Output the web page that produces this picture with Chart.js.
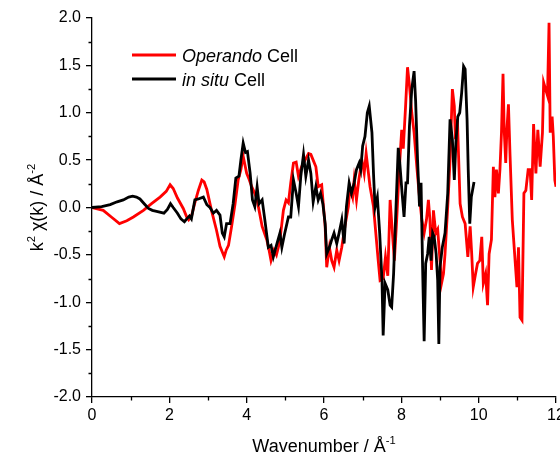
<!DOCTYPE html>
<html>
<head>
<meta charset="utf-8">
<script src="https://cdn.jsdelivr.net/npm/chart.js@4.4.1/dist/chart.umd.min.js"></script>
<style>
  html, body { margin: 0; padding: 0; background: #fff; overflow: hidden; }
  canvas { display: block; }
</style>
</head>
<body>
<canvas id="chart" width="560" height="456"></canvas>
<script>
// Operando cell, k (1/A) and k^2 chi(k)
const operandoK = [0, 0.29, 0.5, 0.71, 0.9, 1.07, 1.33, 1.54, 1.76, 1.92, 2.02, 2.1, 2.21, 2.36, 2.45, 2.5,
  2.58, 2.66, 2.75, 2.84, 2.9, 2.97, 3.09, 3.22, 3.31, 3.42, 3.47, 3.53, 3.61, 3.7, 3.78, 3.85, 3.91,
  4.0, 4.06, 4.13, 4.21, 4.27, 4.32, 4.4, 4.52, 4.58, 4.63, 4.71, 4.77, 4.82, 4.86, 4.91, 4.95,
  5.02, 5.08, 5.14, 5.21, 5.28, 5.34, 5.42, 5.51, 5.6, 5.66, 5.72, 5.79, 5.85, 5.94, 5.98,
  6.03, 6.07, 6.14, 6.2, 6.26, 6.33, 6.39, 6.46, 6.54, 6.63, 6.67, 6.74, 6.78, 6.84, 6.9, 6.98,
  7.04, 7.09, 7.15, 7.19, 7.28, 7.34, 7.4, 7.45, 7.53, 7.59, 7.65, 7.71, 7.77, 7.82, 7.88, 7.94,
  8.01, 8.05, 8.11, 8.16, 8.21, 8.27, 8.33, 8.4, 8.46, 8.53, 8.59, 8.65, 8.7, 8.74, 8.78, 8.83, 8.89, 8.94,
  9.0, 9.04, 9.09, 9.13, 9.2, 9.26, 9.32, 9.37, 9.4, 9.45, 9.52, 9.58, 9.65, 9.72, 9.78, 9.82, 9.86, 9.92, 9.97,
  10.03, 10.08, 10.12, 10.18, 10.23, 10.27, 10.33, 10.38, 10.42, 10.46, 10.51, 10.55, 10.59, 10.63, 10.66,
  10.7, 10.73, 10.77, 10.81, 10.87, 10.93, 10.99, 11.03, 11.07, 11.12, 11.17, 11.22, 11.28, 11.33, 11.37,
  11.42, 11.48, 11.53, 11.59, 11.65, 11.68, 11.73, 11.78, 11.82, 11.85, 11.9, 11.93, 11.97, 12.0];
const operandoChi = [0, -0.03, -0.10, -0.17, -0.14, -0.10, -0.03, 0.04, 0.11, 0.17, 0.24, 0.20, 0.10, -0.01, -0.10, -0.13,
  -0.08, 0.05, 0.18, 0.29, 0.27, 0.19, -0.03, -0.24, -0.41, -0.52, -0.45, -0.40, -0.20, 0.04, 0.29, 0.40, 0.54,
  0.36, 0.30, 0.22, 0.15, 0.08, -0.03, -0.20, -0.34, -0.45, -0.56, -0.45, -0.50, -0.42, -0.34, -0.17, -0.03,
  0.08, 0.05, 0.26, 0.47, 0.48, 0.33, 0.43, 0.50, 0.57, 0.56, 0.50, 0.43, 0.22, 0.24, 0.04,
  -0.20, -0.63, -0.42, -0.56, -0.63, -0.45, -0.56, -0.42, -0.20, 0.01, 0.22, 0.11, 0.29, 0.08, 0.29, 0.50,
  0.36, 0.57, 0.36, 0.22, 0.01, -0.27, -0.55, -0.77, -0.75, -0.52, -0.72, 0.08, -0.27, -0.56, -0.13, 0.36,
  0.82, 0.62, 1.07, 1.48, 1.29, 1.00, 0.79, 0.43, 0.15, -0.13, -0.27, -0.13, 0.08, -0.13, -0.66, -0.03, -0.27, -0.23,
  -0.56, -0.80, -0.70, -0.49, 0.01, 0.50, 1.25, 1.07, 0.72, 0.93, 0.04, -0.10, -0.17, -0.52, -0.20, -0.49, -0.84, -0.70, -0.59,
  -0.56, -0.31, -0.80, -0.70, -1.03, -0.49, -0.34, 0.43, 0.11, 0.40, 0.15, 0.40, 0.79, 1.41, 0.82,
  0.47, 0.82, 1.09, 0.57, -0.13, -0.49, -0.84, -0.42, -1.16, -1.19, 0.15, 0.18, 0.40, 0.40, 0.08,
  0.88, 0.36, 0.82, 0.43, 0.79, 1.32, 1.25, 1.18, 1.95, 0.79, 0.96, 0.75, 0.29, 0.22];

// in situ cell
const inSituK = [0, 0.25, 0.47, 0.65, 0.81, 0.95, 1.05, 1.15, 1.24, 1.35, 1.46, 1.56, 1.67, 1.86, 1.95, 2.03, 2.1,
  2.21, 2.3, 2.39, 2.45, 2.52, 2.57, 2.66, 2.75, 2.88, 2.97, 3.05, 3.14, 3.22, 3.31, 3.37, 3.42, 3.48, 3.57,
  3.65, 3.72, 3.8, 3.85, 3.91, 3.97, 4.02, 4.09, 4.15, 4.21, 4.27, 4.32, 4.4, 4.47, 4.56, 4.63, 4.69, 4.77,
  4.86, 4.91, 4.98, 5.08, 5.14, 5.21, 5.28, 5.34, 5.4, 5.47, 5.53, 5.6, 5.66, 5.72, 5.79, 5.85, 5.91, 5.97,
  6.03, 6.07, 6.14, 6.2, 6.26, 6.33, 6.39, 6.46, 6.52, 6.58, 6.65, 6.71, 6.78, 6.84, 6.91, 6.95,
  7.0, 7.06, 7.12, 7.17, 7.24, 7.28, 7.32, 7.38, 7.44, 7.5, 7.53, 7.58, 7.65, 7.71, 7.75, 7.8, 7.85, 7.92, 7.96,
  8.02, 8.07, 8.12, 8.16, 8.21, 8.27, 8.33, 8.37, 8.42, 8.47, 8.51, 8.55, 8.59, 8.63, 8.68, 8.72, 8.77, 8.81,
  8.85, 8.9, 8.94, 8.97, 9.0, 9.06, 9.13, 9.2, 9.26, 9.32, 9.37, 9.41, 9.46, 9.51, 9.56, 9.61, 9.65, 9.7,
  9.73, 9.77, 9.81, 9.88];
const inSituChi = [0, 0.01, 0.03, 0.06, 0.08, 0.11, 0.12, 0.11, 0.09, 0.04, -0.01, -0.03, -0.04, -0.06, -0.02, 0.04, 0.0,
  -0.06, -0.12, -0.15, -0.12, -0.09, -0.12, 0.08, 0.09, 0.11, 0.03, 0.0, -0.06, -0.03, -0.08, -0.27, -0.31, -0.17, -0.17,
  0.04, 0.31, 0.33, 0.50, 0.68, 0.58, 0.59, 0.36, 0.08, 0.01, 0.22, 0.04, 0.08, -0.13, -0.42, -0.40, -0.52, -0.40,
  -0.27, -0.42, -0.28, -0.10, -0.10, 0.29, 0.15, 0.01, 0.33, 0.56, 0.33, 0.50, 0.36, 0.06, 0.22, 0.08, 0.15, 0.04,
  -0.17, -0.49, -0.42, -0.34, -0.27, -0.38, -0.27, -0.13, -0.38, 0.01, 0.26, 0.15, 0.26, 0.40, 0.47, 0.40,
  0.65, 0.75, 1.00, 1.07, 0.79, 0.36, 0.0, 0.11, -0.27, -0.77, -1.35, -0.80, -0.87, -1.03, -1.05, -0.70, -0.13, 0.63, 0.47,
  0.15, -0.10, 0.26, 0.26, 0.86, 1.25, 1.44, 1.12, 0.50, 0.01, 0.26, -0.63, -1.41, -0.59, -0.49, -0.31, -0.56, -0.27,
  -0.31, -0.49, -0.77, -1.44, -0.63, -0.42, -0.27, 0.15, 0.93, 0.72, 0.29, 0.68, 0.96, 1.00, 1.21, 1.49, 1.46, 0.93,
  0.40, -0.17, 0.11, 0.27];

const FONT = "'Liberation Sans', Arial, sans-serif";

function points(xs, ys) {
  return xs.map((x, i) => ({x: x, y: ys[i]}));
}

// draw a run of text pieces (normal / italic / superscript) starting at x
function richText(ctx, parts, x, y, size, align) {
  const fontOf = p => (p.italic ? 'italic ' : '') + (p.sup ? size * 0.62 : size) + 'px ' + FONT;
  let total = 0;
  parts.forEach(p => { ctx.font = fontOf(p); total += ctx.measureText(p.t).width; });
  let cx = align === 'center' ? x - total / 2 : x;
  ctx.textAlign = 'left';
  ctx.textBaseline = 'alphabetic';
  parts.forEach(p => {
    ctx.font = fontOf(p);
    ctx.fillText(p.t, cx, p.sup ? y - size * 0.42 : y);
    cx += ctx.measureText(p.t).width;
  });
}

const decor = {
  id: 'decor',
  afterDraw(chart) {
    const {ctx, chartArea, scales: {x, y}} = chart;
    ctx.save();
    ctx.strokeStyle = '#000';
    ctx.lineWidth = 1.3;
    ctx.beginPath();
    for (let v = -1.75; v < 2; v += 0.5) {
      const py = Math.round(y.getPixelForValue(v)) + 0.5;
      ctx.moveTo(chartArea.left - 3.5, py);
      ctx.lineTo(chartArea.left, py);
    }
    for (let v = 1; v < 12; v += 2) {
      const px = Math.round(x.getPixelForValue(v)) + 0.5;
      ctx.moveTo(px, chartArea.bottom);
      ctx.lineTo(px, chartArea.bottom + 3.5);
    }
    ctx.stroke();

    ctx.fillStyle = '#000';
    // x axis title
    richText(ctx, [{t: 'Wavenumber / \u00C5'}, {t: '-1', sup: true}],
      (chartArea.left + chartArea.right) / 2, 452, 18, 'center');
    // y axis title
    ctx.save();
    ctx.translate(43, (chartArea.top + chartArea.bottom) / 2);
    ctx.rotate(-Math.PI / 2);
    richText(ctx, [{t: 'k'}, {t: '2', sup: true}, {t: ' \u03C7(k) / \u00C5'}, {t: '-2', sup: true}], 0, 0, 18, 'center');
    ctx.restore();

    // legend
    const rows = [
      {color: '#ff0000', y: 55, parts: [{t: 'Operando', italic: true}, {t: ' Cell'}]},
      {color: '#000000', y: 79, parts: [{t: 'in situ', italic: true}, {t: ' Cell'}]}
    ];
    rows.forEach(r => {
      ctx.strokeStyle = r.color;
      ctx.lineWidth = 2.8;
      ctx.beginPath();
      ctx.moveTo(132, r.y);
      ctx.lineTo(176, r.y);
      ctx.stroke();
      richText(ctx, r.parts, 182, r.y + 6.5, 18, 'left');
    });
    ctx.restore();
  }
};

const axisGrid = {display: true, drawOnChartArea: false, drawTicks: true, tickLength: 6, color: '#000', lineWidth: 1.3};
const axisBorder = {display: true, color: '#000', width: 1.3};

new Chart(document.getElementById('chart'), {
  type: 'line',
  data: {
    datasets: [
      {label: 'in situ Cell', data: points(inSituK, inSituChi), borderColor: '#000000',
       borderWidth: 2.8, pointRadius: 0, tension: 0, order: 0},
      {label: 'Operando Cell', data: points(operandoK, operandoChi), borderColor: '#ff0000',
       borderWidth: 2.8, pointRadius: 0, tension: 0, order: 1}
    ]
  },
  options: {
    responsive: false,
    animation: false,
    layout: {padding: {top: 18, right: 4, bottom: 0, left: 0}},
    plugins: {legend: {display: false}, tooltip: {enabled: false}},
    scales: {
      x: {
        type: 'linear', min: 0, max: 12,
        ticks: {stepSize: 2, color: '#000', padding: 3, maxRotation: 0, font: {family: FONT, size: 16}},
        grid: axisGrid, border: axisBorder,
        afterFit(s) { s.height = 59; s.paddingLeft = 0; s.paddingRight = 0; }
      },
      y: {
        min: -2, max: 2,
        ticks: {stepSize: 0.5, color: '#000', padding: 5, font: {family: FONT, size: 16},
                callback: v => v.toFixed(1)},
        grid: axisGrid, border: axisBorder,
        afterFit(s) { s.width = 92; s.paddingTop = 0; s.paddingBottom = 0; }
      }
    }
  },
  plugins: [decor]
});
</script>
</body>
</html>
